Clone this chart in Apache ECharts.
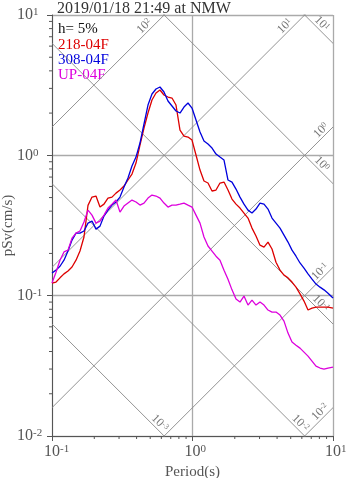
<!DOCTYPE html>
<html><head><meta charset="utf-8">
<script src="https://cdn.jsdelivr.net/npm/echarts@6/dist/echarts.min.js"></script>
<style>html,body{margin:0;padding:0;background:#fff}#c{width:347px;height:478px}</style>
</head><body><div id="c"></div>
<script>
// ---- data ----
const titleText = '2019/01/18 21:49 at NMW';
const periods = [0.100,0.1068,0.1140,0.1217,0.1300,0.1388,0.1482,0.1582,0.1689,0.1804,
0.1926,0.2056,0.2196,0.2344,0.2503,0.2673,0.2854,0.3047,0.3254,0.3474,
0.3709,0.3961,0.4229,0.4516,0.4822,0.5148,0.5497,0.5870,0.6267,0.6692,
0.7146,0.7630,0.8147,0.8699,0.9289,0.9918,1.059,1.131,1.207,1.289,
1.377,1.470,1.569,1.676,1.789,1.910,2.040,2.178,2.325,2.483,
2.651,2.831,3.023,3.228,3.446,3.680,3.929,4.196,4.480,4.783,
5.108,5.454,5.823,6.218,6.640,7.089,7.570,8.083,8.630,9.215,10.00];
const sv218 = [0.123,0.125,0.134,0.143,0.150,0.160,0.179,0.208,0.262,0.440,
0.504,0.513,0.428,0.449,0.496,0.504,0.538,0.566,0.604,0.667,
0.736,0.881,1.184,1.565,2.002,2.479,2.780,2.920,2.690,2.603,
2.561,2.283,1.514,1.373,1.350,1.285,1.005,0.785,0.656,0.635,
0.557,0.566,0.635,0.645,0.566,0.488,0.449,0.421,0.388,0.357,
0.303,0.266,0.229,0.222,0.241,0.215,0.173,0.152,0.140,0.134,
0.125,0.115,0.103,0.0915,0.0790,0.0816,0.0829,0.0829,0.0829,0.0829,0.0816];
const sv308 = [0.145,0.152,0.162,0.179,0.208,0.249,0.279,0.279,0.289,0.329,
0.340,0.298,0.313,0.369,0.407,0.442,0.465,0.504,0.594,0.689,
0.839,0.972,1.224,1.672,2.283,2.735,2.969,3.068,2.826,2.438,
2.246,2.069,2.002,2.209,2.359,2.173,1.785,1.466,1.264,1.204,
1.127,1.021,0.972,0.926,0.667,0.645,0.575,0.504,0.449,0.407,
0.388,0.414,0.457,0.449,0.414,0.357,0.329,0.303,0.270,0.241,
0.211,0.191,0.171,0.157,0.143,0.131,0.121,0.115,0.110,0.104,0.0961];
const svUP = [0.123,0.147,0.179,0.205,0.211,0.257,0.279,0.289,0.335,0.407,
0.375,0.329,0.340,0.375,0.421,0.449,0.480,0.394,0.435,0.457,
0.480,0.465,0.442,0.457,0.496,0.521,0.513,0.496,0.457,0.428,
0.442,0.442,0.449,0.457,0.442,0.428,0.375,0.329,0.262,0.226,
0.208,0.191,0.179,0.152,0.131,0.110,0.0946,0.0901,0.0993,0.0857,
0.0930,0.0857,0.0901,0.0857,0.0790,0.0764,0.0764,0.0727,0.0659,0.0541,
0.0467,0.0444,0.0423,0.0396,0.0371,0.0342,0.0315,0.0305,0.0300,0.0305,0.0310];
const seriesNames = ['218-04F','308-04F','UP-04F'];
const dampingText = 'h= 5%';
const saLevels = [0.01,0.1,1,10,100];   // pSa (cm/s^2)
const sdLevels = [0.001,0.01,0.1,1,10]; // Sd (cm)
const minorMult = [2,3,4,5,6,7,8,9];
const xDecades = [0.1,1];
const yDecades = [0.01,0.1,1];

// ---- styling ----
const FONT = '"Liberation Serif","DejaVu Serif",serif';
const colors = ['#dd0000','#0000dd','#dd00dd'];
const xMin = 0.1, xMax = 10, yMin = 0.01, yMax = 10;
const LABEL_H = 11, LABEL_M = 2;

const exp10 = v => Math.round(Math.log10(v));
const richAxis = {
  b:{fontFamily:FONT,fontSize:16,color:'#555',verticalAlign:'bottom'},
  s:{fontFamily:FONT,fontSize:11,color:'#555',verticalAlign:'top'},
  p:{fontFamily:FONT,fontSize:11,color:'rgba(0,0,0,0)',verticalAlign:'top'}
};
const richDiag = {
  b:{fontFamily:FONT,fontSize:12,fill:'#777',verticalAlign:'bottom'},
  s:{fontFamily:FONT,fontSize:8,fill:'#777',verticalAlign:'top'}
};

const diagDefs = [];
saLevels.forEach(sa => diagDefs.push({kind:'sa', exp:exp10(sa), f:T => sa*T/(2*Math.PI)}));
sdLevels.forEach(sd => diagDefs.push({kind:'sd', exp:exp10(sd), f:T => 2*Math.PI*sd/T}));

const yMinorVals = [], xMinorVals = [];
yDecades.forEach(d => minorMult.forEach(m => yMinorVals.push(d*m)));
xDecades.forEach(d => minorMult.forEach(m => xMinorVals.push(d*m)));

function diagLabel(params, api){
  const d = diagDefs[params.dataIndex];
  const cs = params.coordSys;
  const L = cs.x, R = cs.x + cs.width, T = cs.y, B = cs.y + cs.height;
  const a = api.coord([xMin, d.f(xMin)]);
  const b = api.coord([xMax, d.f(xMax)]);
  let t0 = 0, t1 = 1;
  const dx = b[0]-a[0], dy = b[1]-a[1];
  const p = [-dx, dx, -dy, dy], q = [a[0]-L, R-a[0], a[1]-T, B-a[1]];
  for (let i=0;i<4;i++){
    if (p[i] === 0) { if (q[i] < 0) return null; }
    else { const r = q[i]/p[i]; if (p[i] < 0) { if (r > t0) t0 = r; } else { if (r < t1) t1 = r; } }
  }
  if (t0 > t1) return null;
  const ex = a[0]+t1*dx, ey = a[1]+t1*dy;
  const h = LABEL_H/Math.SQRT2, m = LABEL_M;
  let px, py, rot;
  if (d.kind === 'sa') {
    const s = Math.max(0, ex - R + m, T + m + h - ey);
    px = ex - s; py = ey + s; rot = Math.PI/4;
  } else {
    const s = Math.max(0, ex + h - R + m, ey - B + m);
    px = ex - s; py = ey - s; rot = -Math.PI/4;
  }
  return {type:'text', x:px, y:py, rotation:rot,
    style:{text:'{b|10}{s|'+d.exp+'}', rich:richDiag, align:'right', verticalAlign:'bottom', fill:'#777'}};
}
function yMinorTick(params, api){
  const cs = params.coordSys;
  const pt = api.coord([1, api.value(1)]);
  return {type:'line', shape:{x1:cs.x-3, y1:pt[1], x2:cs.x, y2:pt[1]}, style:{stroke:'#555', lineWidth:1}};
}
function xMinorTick(params, api){
  const cs = params.coordSys;
  const pt = api.coord([api.value(0), 1]);
  const yb = cs.y + cs.height;
  return {type:'line', shape:{x1:pt[0], y1:yb, x2:pt[0], y2:yb+3}, style:{stroke:'#555', lineWidth:1}};
}

const series = [];
diagDefs.forEach(d => series.push({type:'line', silent:true, symbol:'none', clip:true, z:1,
  data:[[xMin, d.f(xMin)],[xMax, d.f(xMax)]], lineStyle:{color:'#888', width:0.9}}));
series.push({type:'custom', silent:true, z:2, data:diagDefs.map(() => [1,1]), renderItem:diagLabel});
series.push({type:'custom', silent:true, z:2, data:yMinorVals.map(v => [1,v]), renderItem:yMinorTick});
series.push({type:'custom', silent:true, z:2, data:xMinorVals.map(v => [v,1]), renderItem:xMinorTick});
[sv218, sv308, svUP].forEach((arr, i) => series.push({
  name:seriesNames[i], type:'line', symbol:'none', clip:true, z:5,
  data:periods.map((t, k) => [t, arr[k]]),
  lineStyle:{color:colors[i], width:1.3}
}));

const legendTexts = [dampingText].concat(seriesNames);
const legendColors = ['#111'].concat(colors);
const graphics = legendTexts.map((t, i) => ({type:'text', left:58, top:22 + i*15.3,
  style:{text:t, fill:legendColors[i], font:'15px "Liberation Serif"'}}));

const option = {
  animation:false,
  title:{text:titleText, left:52, top:-4, textStyle:{fontFamily:FONT, fontSize:16, fontWeight:'normal', color:'#333'}},
  grid:{left:52, right:14, top:15, bottom:42, containLabel:false, outerBoundsMode:'none'},
  xAxis:{type:'log', logBase:10, min:xMin, max:xMax,
    name:'Period(s)', nameLocation:'middle', nameGap:29, nameMoveOverlap:false,
    nameTextStyle:{fontFamily:FONT, fontSize:15, color:'#555'},
    axisLine:{lineStyle:{color:'#555'}},
    axisTick:{length:5, lineStyle:{color:'#555'}},
    splitLine:{show:true, lineStyle:{color:'#aaa', width:1.3}},
    axisLabel:{margin:8, formatter:v => {const e = exp10(v); return '{p|'+e+'}{b|10}{s|'+e+'}';}, rich:richAxis}
  },
  yAxis:{type:'log', logBase:10, min:yMin, max:yMax,
    name:'pSv(cm/s)', nameLocation:'middle', nameGap:36, nameMoveOverlap:false,
    nameTextStyle:{fontFamily:FONT, fontSize:15, color:'#555'},
    axisLine:{lineStyle:{color:'#555'}},
    axisTick:{length:5, lineStyle:{color:'#555'}},
    splitLine:{show:true, lineStyle:{color:'#aaa', width:1.3}},
    axisLabel:{margin:35, align:'left', formatter:v => '{b|10}{s|'+exp10(v)+'}', rich:richAxis}
  },
  graphic:graphics,
  series:series
};
echarts.init(document.getElementById('c')).setOption(option);
</script></body></html>
